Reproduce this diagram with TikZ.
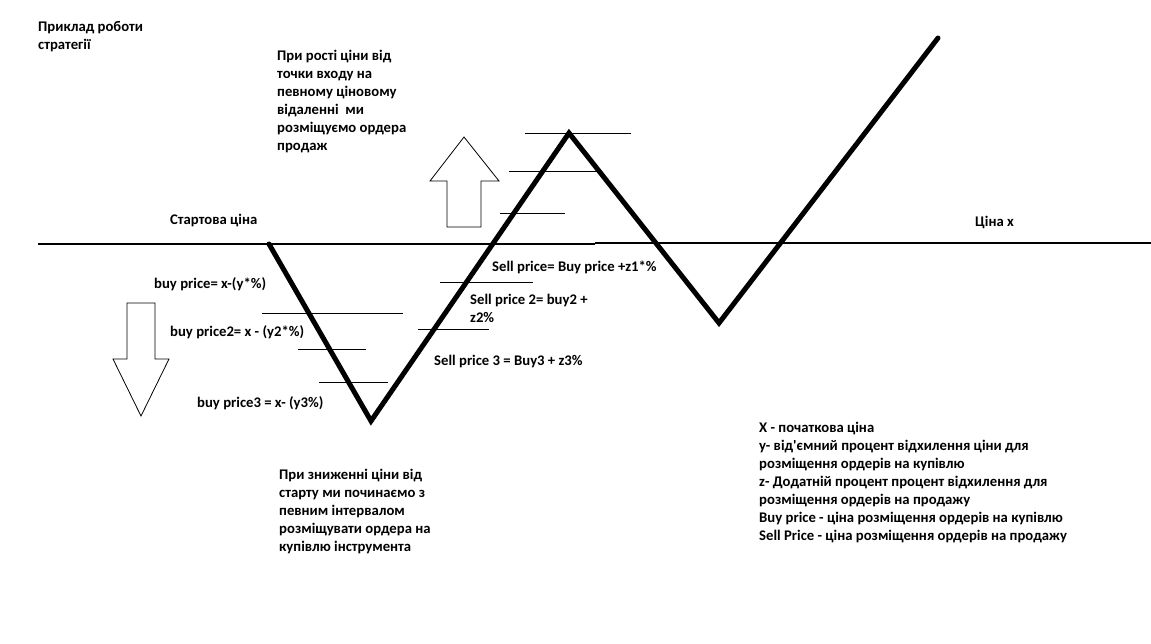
\documentclass[tikz,border=0pt]{standalone}
\usepackage{fontspec}
\setmainfont{Carlito}[Ligatures=TeXOff]
\newcommand{\mylines}[1]{\begin{tabular}[t]{@{}l@{}}#1\end{tabular}}
\begin{document}
\begin{tikzpicture}[x=1pt,y=-1pt,
  txt/.style={anchor=base west,inner sep=0pt,font=\fontsize{14.7}{18}\selectfont\bfseries},
  zig/.style={line width=5pt,line join=miter,line cap=round},
  level/.style={line width=1pt},
  axis/.style={line width=1.4pt},
  bigarrow/.style={draw,line width=0.8pt,fill=white}]
\useasboundingbox[fill=white] (0,0) rectangle (1151,643);
% axis
\coordinate (axL) at (38,244);
\coordinate (axM) at (595,244);
\coordinate (axM2) at (595,243);
\coordinate (axR) at (1151,243);
\draw[axis] (axL) -- (axM);
\draw[axis] (axM2) -- (axR);
% zigzag
\coordinate (z0) at (269,244);
\coordinate (z1) at (371,421);
\coordinate (z2) at (569,133);
\coordinate (z3) at (719,323);
\coordinate (z4) at (938,38);
\draw[zig] (z0) -- (z1) -- (z2) -- (z3) -- (z4);
% buy levels
\coordinate (b1l) at (262,313); \coordinate (b1r) at (403,313);
\coordinate (b2l) at (298,349); \coordinate (b2r) at (366,349);
\coordinate (b3l) at (319,382); \coordinate (b3r) at (388,382);
\draw[level] (b1l) -- (b1r);
\draw[level] (b2l) -- (b2r);
\draw[level] (b3l) -- (b3r);
% sell levels
\coordinate (s1l) at (525,133); \coordinate (s1r) at (631,133);
\coordinate (s2l) at (509,171); \coordinate (s2r) at (597,171);
\coordinate (s3l) at (500,213); \coordinate (s3r) at (565,213);
\coordinate (s4l) at (440,282); \coordinate (s4r) at (533,282);
\coordinate (s5l) at (418,329); \coordinate (s5r) at (489,329);
\draw[level] (s1l) -- (s1r);
\draw[level] (s2l) -- (s2r);
\draw[level] (s3l) -- (s3r);
\draw[level] (s4l) -- (s4r);
\draw[level] (s5l) -- (s5r);
% down arrow
\draw[bigarrow] (127,303) -- (155,303) -- (155,359) -- (169,359) -- (141,416) -- (113,359) -- (127,359) -- cycle;
% up arrow
\draw[bigarrow] (447,227) -- (481,227) -- (481,181) -- (499,181) -- (464,137) -- (430,181) -- (447,181) -- cycle;
% texts
\node[txt] (title) at (38,31) {\mylines{Приклад роботи\\стратегії}};
\node[txt] (up) at (277,60) {\mylines{При рості ціни від\\точки входу на\\певному ціновому\\відаленні\ \ ми\\розміщуємо ордера\\продаж}};
\node[txt] (start) at (170,224) {Стартова ціна};
\node[txt] (price) at (975,226) {Ціна х};
\node[txt] (bp1) at (154,288) {buy price= x-(y*\%)};
\node[txt] (bp2) at (170,336) {buy price2= x - (y2*\%)};
\node[txt] (bp3) at (197,407) {buy price3 = x- (y3\%)};
\node[txt] (sp1) at (492,271) {Sell price= Buy price +z1*\%};
\node[txt] (sp2) at (470,304) {\mylines{Sell price 2= buy2 +\\z2\%}};
\node[txt] (sp3) at (434,365) {Sell price 3 = Buy3 + z3\%};
\node[txt] (down) at (279,479) {\mylines{При зниженні ціни від\\старту ми починаємо з\\певним інтервалом\\розміщувати ордера на\\купівлю інструмента}};
\node[txt] (legend) at (759,432) {\mylines{X - початкова ціна\\y- від'ємний процент відхилення ціни для\\розміщення ордерів на купівлю\\z- Додатній процент процент відхилення для\\розміщення ордерів на продажу\\Buy price - ціна розміщення ордерів на купівлю\\Sell Price - ціна розміщення ордерів на продажу}};
\end{tikzpicture}
\end{document}
